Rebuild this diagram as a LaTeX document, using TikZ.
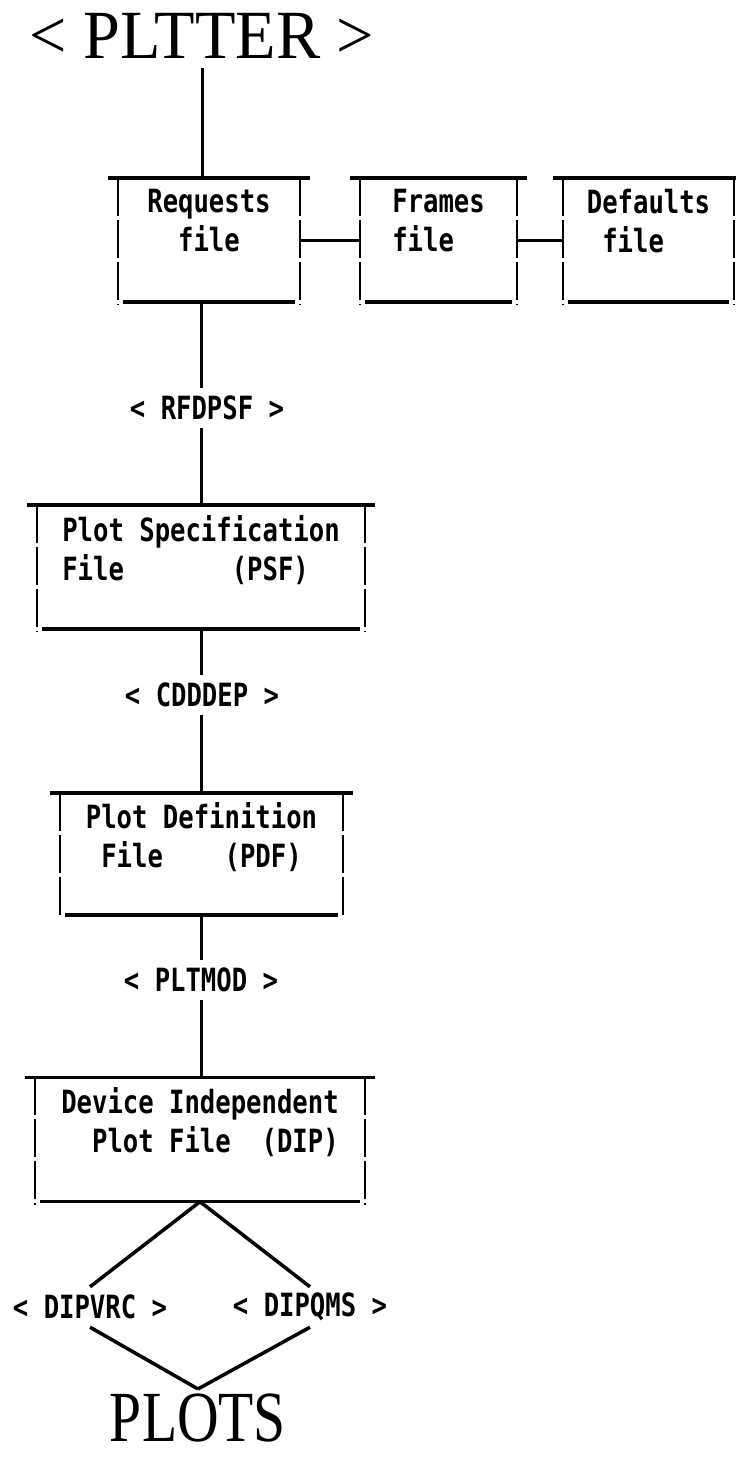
\documentclass[tikz,border=0pt]{standalone}
\usepackage{fontspec}
\usepackage{tikz}
\usetikzlibrary{positioning, calc}
\newfontfamily\boxfont[FakeStretch=0.8]{DejaVu Sans Mono}
\newfontfamily\titlefont[FakeStretch=0.96]{Liberation Serif}
\newfontfamily\plotsfont[FakeStretch=0.8]{Liberation Serif}

\tikzset{
  filebox/.style={inner sep=0pt, minimum height=124pt, align=center,
    font=\boxfont\bfseries\fontsize{32}{39}\selectfont},
  prog/.style={inner sep=0pt, minimum height=40pt,
    font=\boxfont\bfseries\fontsize{32}{39}\selectfont},
  title/.style={inner xsep=0pt, inner ysep=9pt, text depth=0pt},
  link/.style={line width=3pt},
  fork/.style={line width=3.5pt},
  frameedge/.style={line width=3.5pt},
  frameside/.style={line width=2pt, dash pattern=on 38pt off 4pt},
}

% open-sided frame of a file box
\newcommand{\fileframe}[1]{%
  \draw[frameedge] ([xshift=-10pt]#1.north west) -- ([xshift=10pt]#1.north east);
  \draw[frameside] (#1.north west) -- ([yshift=-3pt]#1.south west);
  \draw[frameside] (#1.north east) -- ([yshift=-3pt]#1.south east);
  \draw[frameedge] ([xshift=5pt]#1.south west) -- ([xshift=-5pt]#1.south east);
}

\begin{document}
\begin{tikzpicture}[x=1pt, y=-1pt]
  \useasboundingbox (0,0) rectangle (736,1457);

  \node[title, font=\titlefont\fontsize{69}{70}\selectfont] (pltter) at (202,36) {< PLTTER >};

  % top row of files
  \node[filebox, minimum width=182pt] (req) at (209,240) {Requests\\file\\~};
  \node[filebox, minimum width=157pt, align=left] (frm) at (438.5,240) {Frames\\file\\~};
  \node[filebox, minimum width=171pt, align=left] (dft) at (648.5,240) {Defaults\\\phantom{0}file\\~};
  \fileframe{req}
  \fileframe{frm}
  \fileframe{dft}
  \draw[link] (req.east) -- (frm.west);
  \draw[link] (frm.east) -- (dft.west);

  \node[prog] (rfdpsf) at (207,408) {< RFDPSF >};
  \node[filebox, minimum width=328pt, align=left] (psf) at (201,567)
    {Plot Specification\\File\phantom{0000000}(PSF)\\~};
  \node[prog] (cdddep) at (202,695) {< CDDDEP >};
  \node[filebox, minimum width=283pt, minimum height=122pt, align=left] (pdf) at (201.5,854)
    {Plot Definition\\\phantom{0}File\phantom{0000}(PDF)\\~};
  \node[prog] (pltmod) at (201,980) {< PLTMOD >};
  \node[filebox, minimum width=330pt, align=left] (dip) at (200,1139.5)
    {Device Independent\\\phantom{00}Plot\phantom{0}File\phantom{00}(DIP)\\~};
  \fileframe{psf}
  \fileframe{pdf}
  \fileframe{dip}

  \node[prog] (vrc) at (90,1307) {< DIPVRC >};
  \node[prog] (qms) at (310,1307) {< DIPQMS >};
  \node[title, inner ysep=5pt, font=\plotsfont\fontsize{72}{74}\selectfont] (plots) at (198,1418) {PLOTS};

  % main chain
  \draw[link] (pltter.south) -- (pltter.south |- req.north);
  \draw[link] (req.south -| psf.north) -- (rfdpsf.north -| psf.north);
  \draw[link] (rfdpsf.south -| psf.north) -- (psf.north);
  \draw[link] (psf.south) -- (cdddep.north -| psf.south);
  \draw[link] (cdddep.south -| psf.south) -- (pdf.north -| psf.south);
  \draw[link] (pdf.south -| psf.south) -- (pltmod.north -| psf.south);
  \draw[link] (pltmod.south -| psf.south) -- (dip.north -| psf.south);

  % the two device drivers
  \draw[fork] (dip.south) -- (vrc.north);
  \draw[fork] (dip.south) -- (qms.north);
  \draw[fork] (vrc.south) -- (plots.north);
  \draw[fork] (qms.south) -- (plots.north);
\end{tikzpicture}
\end{document}
